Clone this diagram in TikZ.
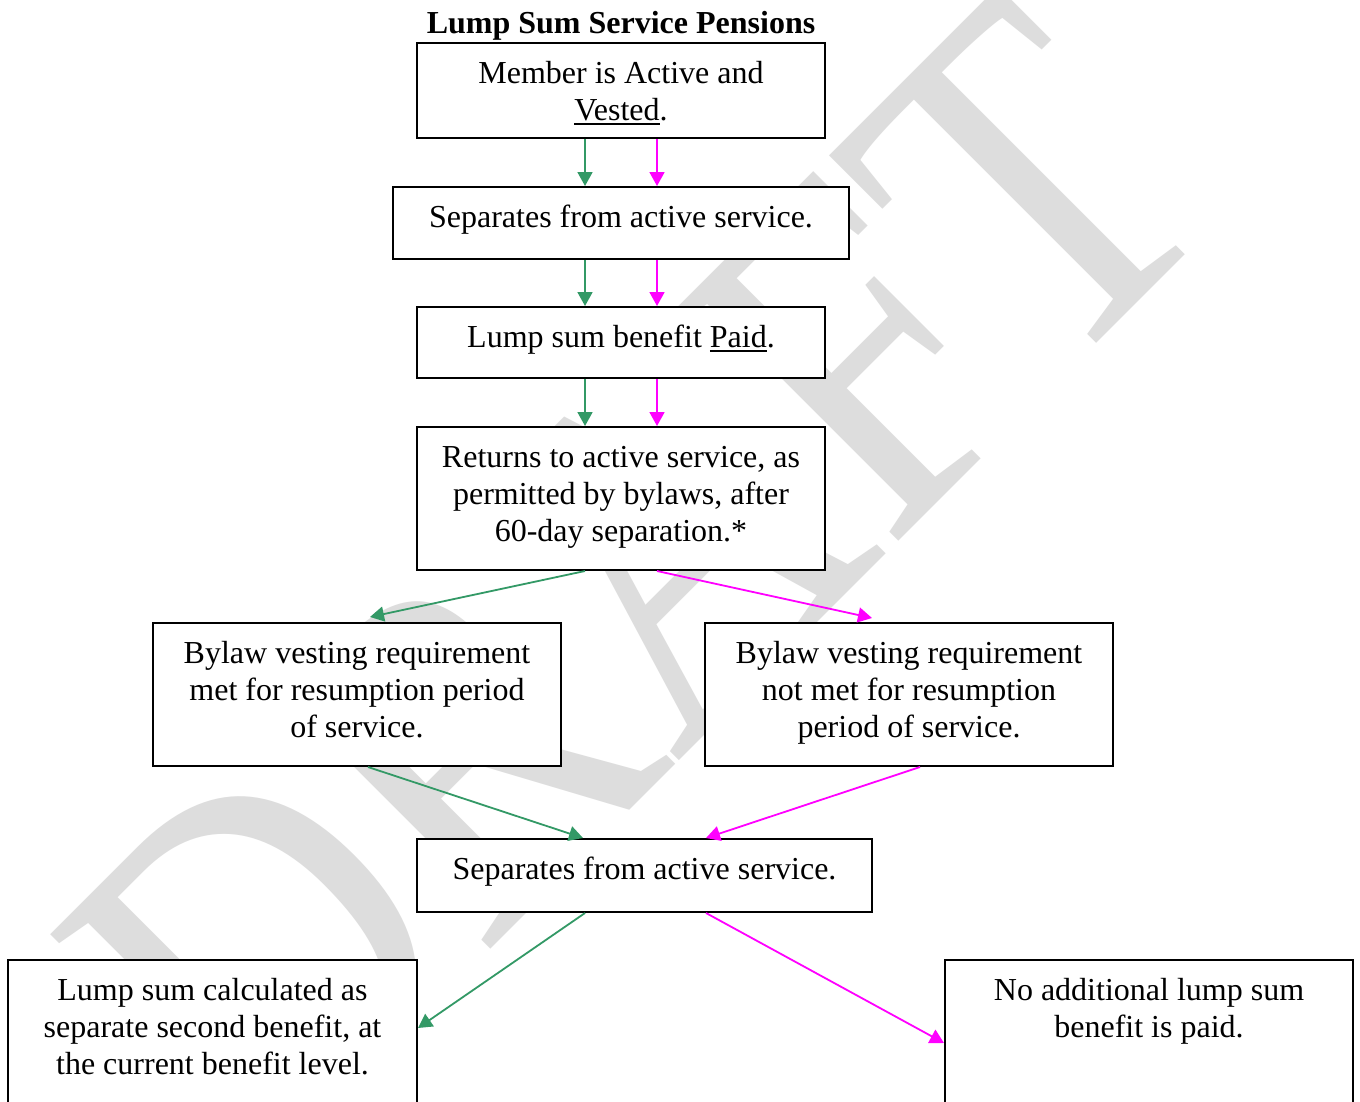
\documentclass[tikz,border=0pt]{standalone}
\usepackage{fontspec}
\setmainfont{Liberation Serif}
\usepackage{graphicx}
\usetikzlibrary{arrows.meta}
\definecolor{sgreen}{RGB}{51,153,102}
\definecolor{mag}{RGB}{255,0,255}
\definecolor{wmgray}{RGB}{221,221,221}
\newcommand\lstrut{\rule{0pt}{24pt}}
\newcommand\myul[1]{\setbox0\hbox{#1}\rlap{\rule[-4.5pt]{\wd0}{2.2pt}}\box0}
\tikzset{
  box/.style={draw=black, line width=2pt, fill=white, inner sep=0pt},
  txt/.style={inner sep=0pt, align=center, anchor=north, font=\fontsize{32}{37}\selectfont},
  garrow/.style={draw=sgreen, line width=1.8pt, -{Triangle[length=14pt,width=15pt]}},
  marrow/.style={draw=mag, line width=1.8pt, -{Triangle[length=14pt,width=15pt]}},
  wmark/.style={inner sep=0pt, text=wmgray, font=\fontsize{491}{491}\selectfont}
}
\begin{document}
\begin{tikzpicture}[x=1pt,y=-1pt]
\useasboundingbox (0,0) rectangle (1360,1101);
\clip (0,0) rectangle (1360,1101);
\fill[white] (0,0) rectangle (1360,1101);
% watermark
\node[wmark, rotate=45, anchor=base west] (wm) at (269,1171) {\scalebox{0.845}[1]{DRAFT}};
% title
\node[inner sep=0pt, anchor=base, font=\fontsize{32}{37}\selectfont\bfseries] (title) at (621,33) {Lump Sum Service Pensions};
% boxes
\node[box, minimum width=408pt, minimum height=95pt] (n1) at (621,90.5) {};
\node[box, minimum width=456pt, minimum height=72pt] (n2) at (621,223) {};
\node[box, minimum width=408pt, minimum height=71pt] (n3) at (621,342.5) {};
\node[box, minimum width=408pt, minimum height=143pt] (n4) at (621,498.5) {};
\node[box, minimum width=408pt, minimum height=143pt] (n5) at (357,694.5) {};
\node[box, minimum width=408pt, minimum height=143pt] (n6) at (909,694.5) {};
\node[box, minimum width=455pt, minimum height=73pt] (n7) at (644.5,875.5) {};
\node[box, minimum width=409pt, minimum height=155pt] (n8) at (212.5,1037.5) {};
\node[box, minimum width=408pt, minimum height=155pt] (n9) at (1149,1037.5) {};
% texts
\node[txt] (t1) at (621,59) {\lstrut Member is Active and\\\myul{Vested}.};
\node[txt] (t2) at (621,203) {\lstrut Separates from active service.};
\node[txt] (t3) at (621,323) {\lstrut Lump sum benefit \myul{Paid}.};
\node[txt] (t4) at (621,443) {\lstrut Returns to active service, as\\permitted by bylaws, after\\60-day separation.*};
\node[txt] (t5) at (357,639) {\lstrut Bylaw vesting requirement\\met for resumption period\\of service.};
\node[txt] (t6) at (909,639) {\lstrut Bylaw vesting requirement\\not met for resumption\\period of service.};
\node[txt] (t7) at (644.5,855) {\lstrut Separates from active service.};
\node[txt] (t8) at (212.5,976) {\lstrut Lump sum calculated as\\separate second benefit, at\\the current benefit level.};
\node[txt] (t9) at (1149,976) {\lstrut No additional lump sum\\benefit is paid.};
% connectors
\draw[garrow] ([xshift=-36pt]n1.south) -- ([xshift=-36pt]n2.north);
\draw[marrow] ([xshift=36pt]n1.south) -- ([xshift=36pt]n2.north);
\draw[garrow] ([xshift=-36pt]n2.south) -- ([xshift=-36pt]n3.north);
\draw[marrow] ([xshift=36pt]n2.south) -- ([xshift=36pt]n3.north);
\draw[garrow] ([xshift=-36pt]n3.south) -- ([xshift=-36pt]n4.north);
\draw[marrow] ([xshift=36pt]n3.south) -- ([xshift=36pt]n4.north);
\draw[garrow] ([xshift=-36pt]n4.south) -- ([xshift=13pt,yshift=5pt]n5.north);
\draw[marrow] ([xshift=36pt]n4.south) -- ([xshift=-37pt,yshift=4pt]n6.north);
\draw[garrow] ([xshift=11pt]n5.south) -- ([xshift=-61.5pt]n7.north);
\draw[marrow] ([xshift=11pt]n6.south) -- ([xshift=61.5pt]n7.north);
\draw[garrow] ([xshift=-59.5pt]n7.south) -- ([yshift=-69pt]n8.north east);
\draw[marrow] ([xshift=61.5pt]n7.south) -- ([yshift=-84pt]n9.north west);
\end{tikzpicture}
\end{document}
